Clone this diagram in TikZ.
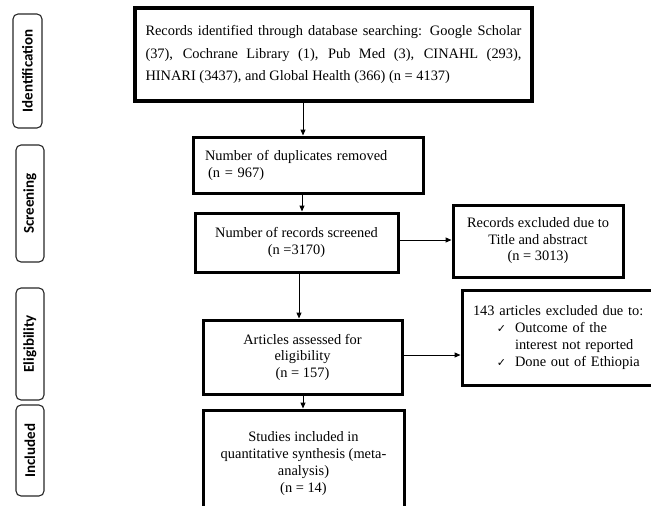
\documentclass[tikz,border=0pt]{standalone}
\usepackage{fontspec}
\setmainfont{Liberation Serif}
\newfontfamily\lblfont{Carlito}
\newfontfamily\symfont{DejaVu Sans}
\usetikzlibrary{arrows.meta}
\begin{document}
\begin{tikzpicture}[x=1pt,y=-1pt,
  phase/.style={draw=black!85, line width=1.1pt, rounded corners=5pt, inner sep=0pt},
  phasetext/.style={rotate=90, font=\lblfont\bfseries\fontsize{15}{17}\selectfont},
  boxa/.style={draw=black, line width=3pt, inner sep=0pt,
     font=\fontsize{14.4}{17}\selectfont},
  arr/.style={line width=1pt, -{Triangle[length=6pt,width=5pt]}}]
\useasboundingbox (0,0) rectangle (651,506);
\clip (0,0) rectangle (651,506);
% phase labels
\node[phase, minimum width=29pt, minimum height=114pt] (p1) at (27.5,71) {};
\node[phasetext] (p1t) at (p1.center) {Identification};
\node[phase, minimum width=28pt, minimum height=117pt] (p2) at (30,203.5) {};
\node[phasetext] (p2t) at (p2.center) {Screening};
\node[phase, minimum width=28pt, minimum height=112pt] (p3) at (30,344) {};
\node[phasetext] (p3t) at (p3.center) {Eligibility};
\node[phase, minimum width=28pt, minimum height=91pt] (p4) at (30,450.5) {};
\node[phasetext] (p4t) at (p4.center) {Included};
% main boxes
\node[boxa, line width=4pt, minimum width=397pt, minimum height=93pt, text width=376pt, align=justify,
  font=\fontsize{14.4}{22.5}\selectfont] (b1) at (333.5,54.5)
  {Records identified through database searching: Google Scholar\linebreak
   (37), Cochrane Library (1), Pub Med (3), CINAHL (293),\linebreak
   HINARI (3437), and Global Health (366) (n = 4137)\par\vspace*{12pt}};
\node[boxa, minimum width=230pt, minimum height=56pt, text width=206pt, align=left] (b2) at (308,165)
  {Number of duplicates removed\\\hspace*{3pt}(n = 967)};
\node[boxa, minimum width=203pt, minimum height=59pt, align=center] (b3) at (296.5,242.5)
  {Number of records screened\\(n =3170)};
\node[boxa, minimum width=170pt, minimum height=72pt, align=center, font=\fontsize{14.4}{16.5}\selectfont] (e1) at (538,241)
  {Records excluded due to\\Title and abstract\\(n = 3013)};
\node[boxa, minimum width=199pt, minimum height=74pt, align=center, font=\fontsize{14.4}{16.5}\selectfont] (b4) at (302.5,357)
  {Articles assessed for\\eligibility\\(n = 157)};
\node[boxa, minimum width=200pt, minimum height=95pt, text width=178pt, align=left] (e2) at (562,337.5)
  {143 articles excluded due to:\\
   \makebox[42pt][r]{{\symfont\fontsize{11}{13}\selectfont ✓}\hspace{9pt}}Outcome of the\\
   \hspace*{42pt}interest not reported\\
   \makebox[42pt][r]{{\symfont\fontsize{11}{13}\selectfont ✓}\hspace{9pt}}Done out of Ethiopia};
\node[boxa, minimum width=201pt, minimum height=108pt, align=center] (b5) at (303.5,464)
  {Studies included in\\quantitative synthesis (meta-\\analysis)\\(n = 14)};
% connectors
\coordinate (v1) at (303,0);
\coordinate (v2) at (302,0);
\coordinate (v3) at (299,0);
\coordinate (h1) at (0,240);
\coordinate (h2) at (0,355);
\draw[arr] (v1 |- b1.south) -- (v1 |- b2.north);
\draw[arr] (v2 |- b2.south) -- (v2 |- b3.north);
\draw[arr] (v3 |- b3.south) -- (v3 |- b4.north);
\draw[arr] (v1 |- b4.south) -- (v1 |- b5.north);
\draw[arr] (b3.east |- h1) -- (e1.west |- h1);
\draw[arr] (b4.east |- h2) -- (e2.west |- h2);
\end{tikzpicture}
\end{document}
